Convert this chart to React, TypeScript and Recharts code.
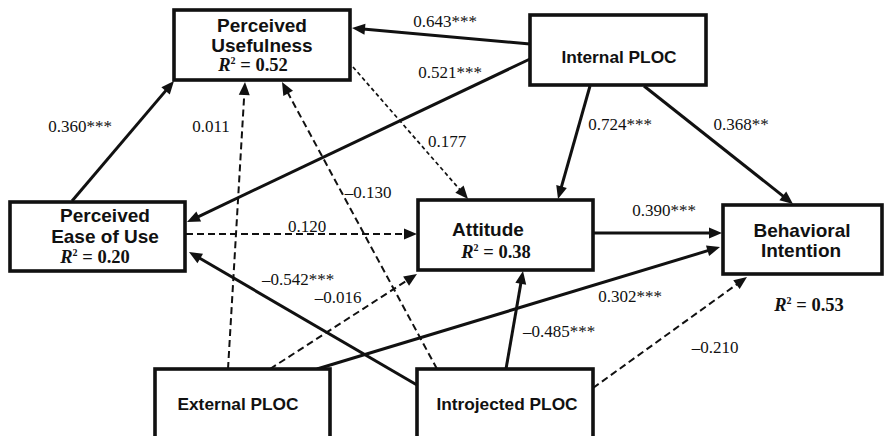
import { ScatterChart, Scatter, XAxis, YAxis, ReferenceLine } from 'recharts';

// constructs of the path model
const NODE_LINES: string[][] = [
  ['Perceived', 'Usefulness'],
  ['Perceived', 'Ease of Use'],
  ['Attitude'],
  ['Behavioral', 'Intention'],
  ['Internal PLOC'],
  ['External PLOC'],
  ['Introjected PLOC'],
];
const NODE_R2: (string | null)[] = ['0.52', '0.20', '0.38', '0.53', null, null, null];

// path coefficients (same order as EDGE_FROM / EDGE_TO)
const EDGE_FROM = [4, 4, 1, 5, 6, 0, 4, 4, 1, 2, 6, 5, 5, 6, 6];
const EDGE_TO = [0, 1, 0, 0, 0, 2, 2, 3, 2, 3, 1, 2, 3, 2, 3];
const COEFS = [
  '0.643***', '0.521***', '0.360***', '0.011', '–0.130', '0.177', '0.724***', '0.368**',
  '0.120', '0.390***', '–0.542***', '–0.016', '0.302***', '–0.485***', '–0.210',
];
const SIGNIFICANT = [true, true, true, false, false, false, true, true, false, true, true, false, true, true, false];

// ---- layout (pixel space, 1:1 with the axes) ----
const W = 888;
const H = 436;

// box: x0, y0, x1, y1, font size
const BOX = [
  [174, 10, 350, 80, 19],
  [10, 202, 185, 271, 19],
  [418, 200, 593, 270, 19],
  [723, 205, 882, 274, 19],
  [530, 15, 706, 85, 17.3],
  [155, 369, 330, 450, 17.3],
  [417, 369, 593, 450, 17.3],
];
// text line anchors [cx, baseline] per node, last one is the R² line when present
const TEXT_POS: number[][][] = [
  [[262, 32], [262, 52], [253, 71]],
  [[105, 222], [105, 243], [95, 263]],
  [[488, 236], [496, 258]],
  [[802, 237], [801, 257], [809, 311]],
  [[619, 63]],
  [[238, 410]],
  [[507, 410]],
];
// edge geometry x1, y1 -> x2, y2 (arrow at 2), label cx, baseline
const EDGE_GEO = [
  [530, 44, 352, 28, 445, 27],
  [530, 59, 187, 222, 450, 78],
  [72, 201, 174, 81, 80, 132],
  [228, 369, 245, 82, 211, 132],
  [437, 369, 282, 82, 368, 198],
  [353, 67, 468, 199, 447, 147],
  [590, 86, 558, 199, 620, 130],
  [644, 86, 793, 204, 741, 130],
  [186, 234, 417, 234, 307, 232],
  [594, 233, 722, 233, 664, 216],
  [417, 385, 189, 252, 298, 285],
  [270, 369, 417, 274, 338, 303],
  [317, 369, 720, 247, 630, 302],
  [506, 369, 523, 271, 559, 337],
  [593, 388, 747, 277, 715, 353],
];

const INK = '#111';

const nodeData = NODE_LINES.map((lines, i) => ({
  x: (BOX[i][0] + BOX[i][2]) / 2,
  y: (BOX[i][1] + BOX[i][3]) / 2,
  idx: i,
}));

const labelData = COEFS.map((c, i) => ({ x: EDGE_GEO[i][4], y: EDGE_GEO[i][5], text: c }));

function R2Text({ x, y, value }: { x: number; y: number; value: string }) {
  return (
    <text x={x} y={y} textAnchor="middle" fontFamily="'Liberation Serif', serif" fontWeight="bold" fontSize={18.5} fill={INK}>
      <tspan fontStyle="italic">R</tspan>
      <tspan fontSize={10} dy={-7}>2</tspan>
      <tspan dy={7}> = {value}</tspan>
    </text>
  );
}

function NodeShape(props: any) {
  const i = props.payload.idx;
  const [x0, y0, x1, y1, fs] = BOX[i];
  const lines = NODE_LINES[i];
  const pos = TEXT_POS[i];
  const r2 = NODE_R2[i];
  return (
    <g>
      <rect x={x0} y={y0} width={x1 - x0} height={y1 - y0} fill="#fff" stroke={INK} strokeWidth={3.6} />
      {lines.map((l, k) => (
        <text key={k} x={pos[k][0]} y={pos[k][1]} textAnchor="middle" fontFamily="'Liberation Sans', Arial, sans-serif" fontWeight="bold" fontSize={fs} fill={INK}>
          {l}
        </text>
      ))}
      {r2 && <R2Text x={pos[lines.length][0]} y={pos[lines.length][1]} value={r2} />}
    </g>
  );
}

function LabelShape(props: any) {
  return (
    <text x={props.cx} y={props.cy} textAnchor="middle" fontFamily="'Liberation Serif', 'Times New Roman', serif" fontSize={17} fill={INK}>
      {props.payload.text}
    </text>
  );
}

function arrowShape(solid: boolean, dotted: boolean) {
  return (props: any) => {
    const { x1, y1, x2, y2 } = props;
    const dx = x2 - x1;
    const dy = y2 - y1;
    const len = Math.sqrt(dx * dx + dy * dy);
    const ux = dx / len;
    const uy = dy / len;
    const al = 13;
    const aw = 5.5;
    const bx = x2 - ux * al;
    const by = y2 - uy * al;
    return (
      <g>
        <line
          x1={x1}
          y1={y1}
          x2={bx + ux * 2}
          y2={by + uy * 2}
          stroke={INK}
          strokeWidth={solid ? 3 : dotted ? 1.7 : 2}
          strokeDasharray={solid ? undefined : dotted ? '4 3' : '7 4'}
        />
        <polygon
          points={`${x2},${y2} ${bx - uy * aw},${by + ux * aw} ${bx + uy * aw},${by - ux * aw}`}
          fill={INK}
        />
      </g>
    );
  };
}

export default function App() {
  return (
    <div style={{ position: 'absolute', left: 0, top: 0, width: W, height: H, background: '#fff' }}>
      <ScatterChart width={W} height={H} margin={{ top: 0, right: 0, bottom: 0, left: 0 }}>
        <XAxis type="number" dataKey="x" domain={[0, W]} hide allowDataOverflow />
        <YAxis type="number" dataKey="y" domain={[0, H]} reversed hide allowDataOverflow />
        {EDGE_FROM.map((f, i) => {
          const g = EDGE_GEO[i];
          const dotted = f === 0 && EDGE_TO[i] === 2;
          return (
            <ReferenceLine
              key={i}
              segment={[{ x: g[0], y: g[1] }, { x: g[2], y: g[3] }]}
              ifOverflow="visible"
              shape={arrowShape(SIGNIFICANT[i], dotted)}
            />
          );
        })}
        <Scatter data={nodeData} shape={NodeShape} isAnimationActive={false} />
        <Scatter data={labelData} shape={LabelShape} isAnimationActive={false} />
      </ScatterChart>
    </div>
  );
}
